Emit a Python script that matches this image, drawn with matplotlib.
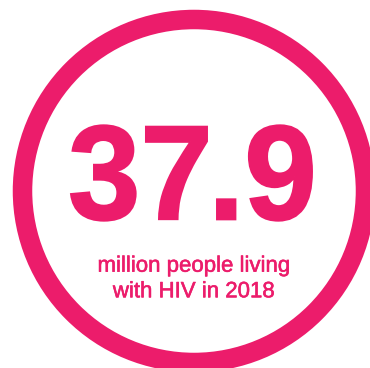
import matplotlib.pyplot as plt
import matplotlib.patheffects as pe
from matplotlib.patches import Circle, PathPatch
from matplotlib.textpath import TextPath
from matplotlib.font_manager import FontProperties
from matplotlib.transforms import Affine2D

pink = '#ec1c6b'

value = "37.9"
caption = ["million people living", "with HIV in 2018"]

fig = plt.figure(figsize=(3.70, 3.68), dpi=100, facecolor='white')
ax = fig.add_axes([0, 0, 1, 1])
ax.set_xlim(0, 370)
ax.set_ylim(368, 0)
ax.set_aspect('equal')
ax.axis('off')

# ring (width in px -> points at 100 dpi), runs off the right/bottom edge
ring_px = 19.5
ax.add_patch(Circle((194, 191), 171.5, fill=False, edgecolor=pink,
                    linewidth=ring_px * 0.72))

# big number: bold sans, "37" and ".9" fitted separately (tight kerning)
fp = FontProperties(family='Liberation Sans', weight='bold')
parts = [value[:2], value[2:]]
boxes = [(71, 125.3, 207, 220.7), (217, 125.3, 312, 220.7)]
for txt, (x0, y0, x1, y1) in zip(parts, boxes):
    tp = TextPath((0, 0), txt, size=100, prop=fp)
    ext = tp.get_extents()
    if txt.startswith('.'):
        # keep vertical scale consistent with the digit height
        full = TextPath((0, 0), '9', size=100, prop=fp).get_extents()
        ext_y0, ext_y1 = full.y0, full.y1
    else:
        ext_y0, ext_y1 = ext.y0, ext.y1
    sx = (x1 - x0) / ext.width
    sy = (y1 - y0) / (ext_y1 - ext_y0)
    tr = Affine2D().translate(-ext.x0, -ext_y1).scale(sx, -sy).translate(x0, y0)
    ax.add_patch(PathPatch(tr.transform_path(tp), facecolor=pink,
                           edgecolor=pink, linewidth=1.4))

stroke = [pe.withStroke(linewidth=0.4, foreground=pink)]
ax.text(194, 271.7, caption[0], ha='center', va='baseline', color=pink,
        fontsize=16, family='Liberation Sans', path_effects=stroke)
ax.text(194, 297.3, caption[1], ha='center', va='baseline', color=pink,
        fontsize=16, family='Liberation Sans', path_effects=stroke)

plt.savefig('out.png', dpi=100, facecolor='white')
